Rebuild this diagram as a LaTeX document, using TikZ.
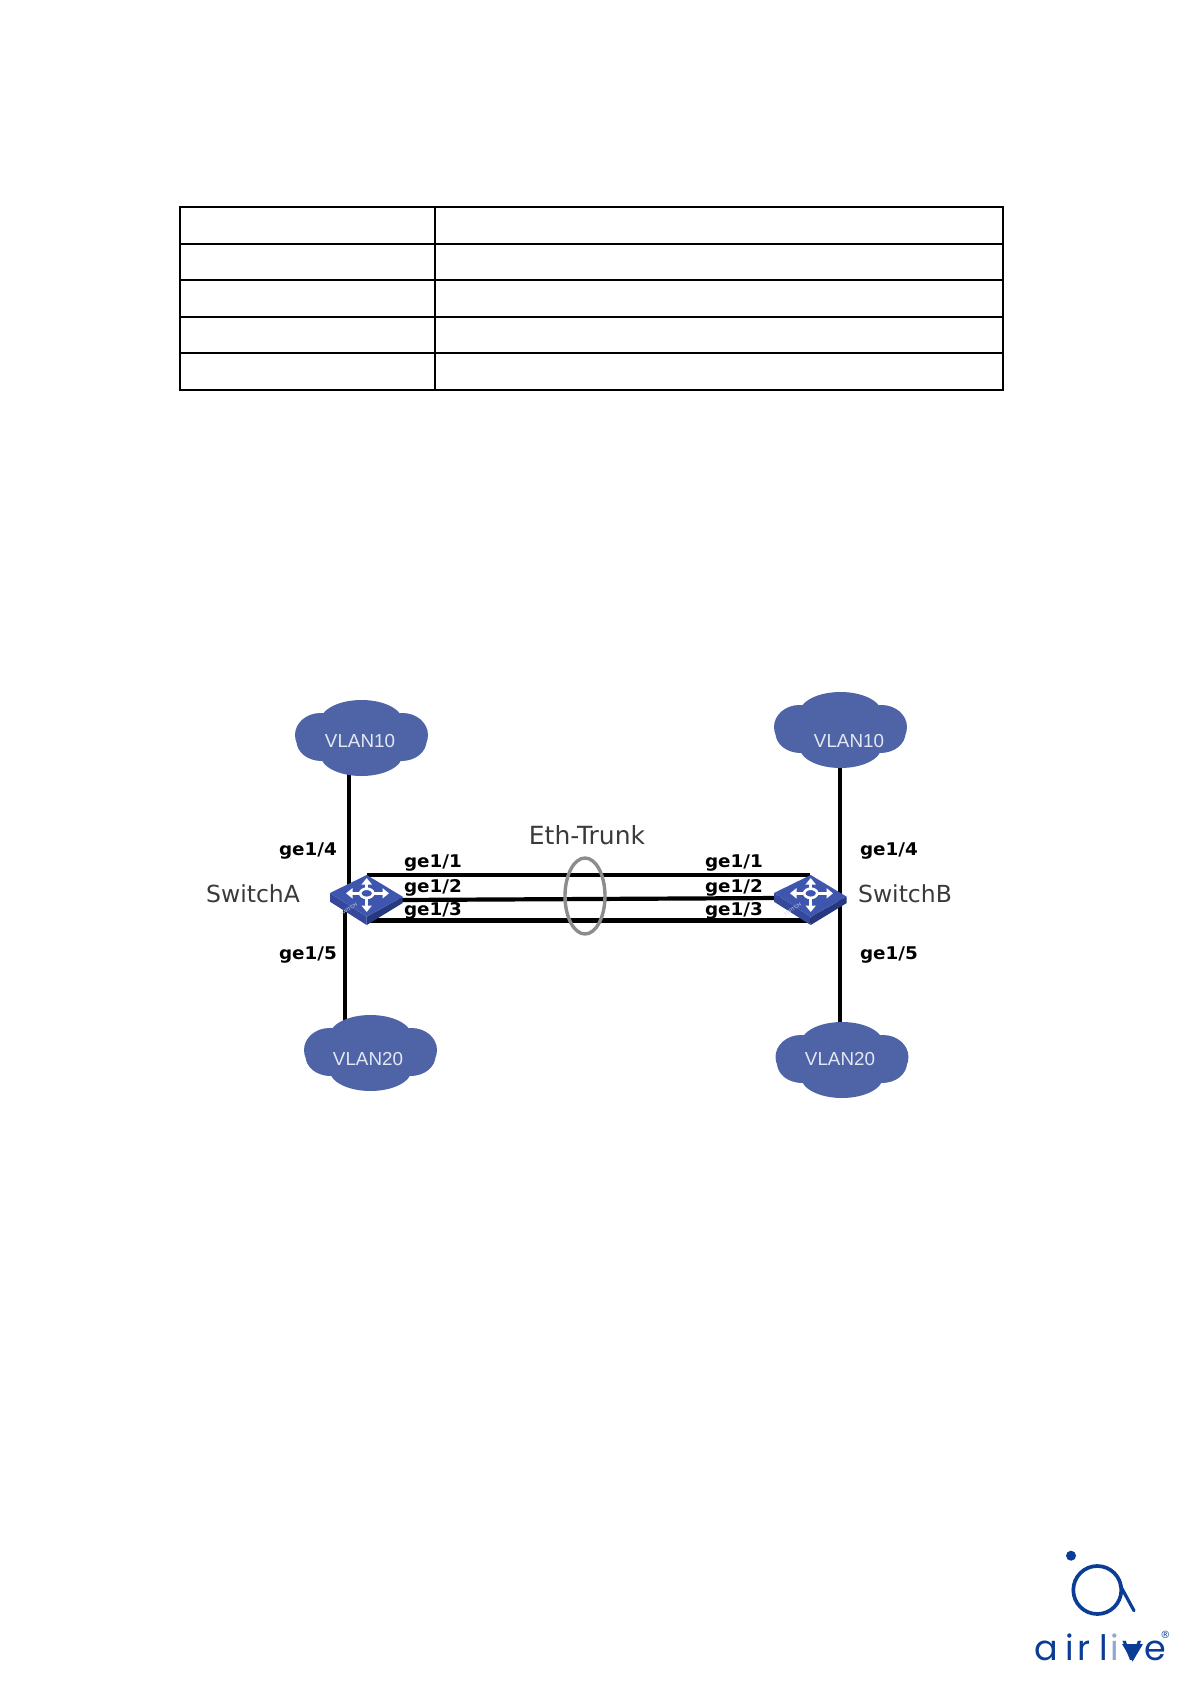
\documentclass[tikz,border=0pt]{standalone}
\usepackage{fontspec}
\usetikzlibrary{arrows.meta,shapes.geometric}
\setmainfont{DejaVu Sans}
\newfontfamily\arialf{Liberation Sans}
\newfontfamily\logof{Poppins}
\definecolor{cloudblue}{HTML}{4F64A7}
\definecolor{cloudtext}{HTML}{E3E8F3}
\definecolor{swtop}{HTML}{3F56AE}
\definecolor{swleft}{HTML}{34489C}
\definecolor{swright}{HTML}{26387F}
\definecolor{logoblue}{HTML}{0B3C96}
\definecolor{labelgray}{HTML}{3A3A3A}
\definecolor{ringgray}{HTML}{8C8C8C}
\tikzset{
  wire/.style={line width=4.2pt,black},
  ringline/.style={line width=3.4pt,draw=ringgray},
  tableline/.style={line width=2pt,black},
  vlantext/.style={font=\arialf\fontsize{18.8}{20}\selectfont,text=cloudtext,inner sep=0pt},
  portlabel/.style={font=\bfseries\fontsize{17.5}{19}\selectfont\addfontfeature{FakeStretch=1.05},text=black,inner sep=0pt},
  swlabel/.style={font=\fontsize{23.5}{25}\selectfont,text=labelgray,inner sep=0pt},
  cloudbox/.style={minimum width=133pt,minimum height=76pt,inner sep=0pt},
  swbox/.style={minimum width=72pt,minimum height=50pt,inner sep=0pt},
  arrowwhite/.style={draw=white,line width=2.8pt,-{Triangle[length=6.5pt,width=10pt]}}
}
\newcommand{\cloudat}[2]{%
  \fill[cloudblue] (#1,#2-17) ellipse (41 and 21);
  \fill[cloudblue] (#1-41,#2-3) ellipse (25.5 and 22);
  \fill[cloudblue] (#1+41,#2-3) ellipse (25.5 and 22);
  \fill[cloudblue] (#1-40,#2+3) ellipse (25 and 20);
  \fill[cloudblue] (#1+40,#2+3) ellipse (25 and 20);
  \fill[cloudblue] (#1,#2+17) ellipse (41 and 21);
  \fill[cloudblue] (#1-30,#2-12) rectangle (#1+30,#2+12);
}
\newcommand{\switchat}[2]{%
  \begin{scope}[shift={(#1,#2)}]
    \fill[swleft] (-36,-3) -- (0.7,20.7) -- (0.7,29) -- (-36,5.7) -- cycle;
    \fill[swright] (36.7,0.7) -- (0.7,20.7) -- (0.7,29) -- (36.7,7) -- cycle;
    \fill[swtop] (0.7,-21) -- (36.7,0.7) -- (0.7,20.7) -- (-36,-3) -- cycle;
    \draw[arrowwhite] (0.7,-8) -- (0.7,-18);
    \draw[arrowwhite] (0.7,3) -- (0.7,16);
    \draw[arrowwhite] (8,-2.7) -- (23,-2.7);
    \draw[arrowwhite] (-7,-2.7) -- (-20,-2.7);
    \draw[white,line width=2.6pt] (0.7,-2.7) ellipse (6.5 and 4.6);
    \node[rotate=33,text=white!80!swleft,font=\arialf\fontsize{5}{6}\selectfont,inner sep=0pt] at (-17.5,13.5) {SWITCH};
  \end{scope}
}
\begin{document}
\begin{tikzpicture}[x=1pt,y=-1pt]
\useasboundingbox (0,0) rectangle (1191,1684);
% table
\draw[tableline] (180,207) rectangle (1003,389.7);
\draw[tableline] (180,244) -- (1003,244);
\draw[tableline] (180,280) -- (1003,280);
\draw[tableline] (180,317) -- (1003,317);
\draw[tableline] (180,352.7) -- (1003,352.7);
\draw[tableline] (435,207) -- (435,389.7);
% cloud and switch anchors
\node[cloudbox] (a10) at (361.5,738) {};
\node[cloudbox] (a20) at (370.5,1053) {};
\node[cloudbox] (b10) at (840.5,730) {};
\node[cloudbox] (b20) at (842,1060) {};
\node[swbox] (sa) at (366,896) {};
\node[swbox] (sb) at (810,896) {};
\coordinate (sa-n) at (348.7,885);
\coordinate (sa-s) at (345,905);
\coordinate (sb-n) at (840,895);
\coordinate (sb-s) at (840,895);
\coordinate (sa-1) at (367,875);
\coordinate (sa-2) at (398,900);
\coordinate (sa-3) at (367,920.5);
\coordinate (sb-1) at (810,875);
\coordinate (sb-2) at (780,898);
\coordinate (sb-3) at (812,920.5);
% wires
\draw[wire] (a10.center -| sa-n) -- (sa-n);
\draw[wire] (sa-s) -- (a20.center -| sa-s);
\draw[wire] (b10.center -| sb-n) -- (sb-n);
\draw[wire] (sb-s) -- (b20.center -| sb-s);
\draw[wire] (sa-1) -- (sb-1);
\draw[wire] (sa-2) -- (sb-2);
\draw[wire] (sa-3) -- (sb-3);
% clouds
\cloudat{361.5}{738}
\cloudat{370.5}{1053}
\cloudat{840.5}{730}
\cloudat{842}{1060}
\node[vlantext] (a10t) at (360,741) {VLAN10};
\node[vlantext] (a20t) at (368,1059) {VLAN20};
\node[vlantext] (b10t) at (849,741) {VLAN10};
\node[vlantext] (b20t) at (840,1059) {VLAN20};
% switches
\switchat{366}{896}
\switchat{810}{896}
% ring
\node[ringline,draw,shape=ellipse,minimum width=40pt,minimum height=76pt,inner sep=0pt] (ring) at (585,896) {};
% labels
\node[swlabel,font=\fontsize{25}{27}\selectfont] (tk) at (587,835) {Eth-Trunk};
\node[swlabel] (sal) at (253,894) {SwitchA};
\node[swlabel] (sbl) at (905,894) {SwitchB};
\node[portlabel] (p1) at (433,863) {ge1/1};
\node[portlabel] (p2) at (433,888) {ge1/2};
\node[portlabel] (p3) at (433,911) {ge1/3};
\node[portlabel] (q1) at (734,863) {ge1/1};
\node[portlabel] (q2) at (734,888) {ge1/2};
\node[portlabel] (q3) at (734,911) {ge1/3};
\node[portlabel] (p4) at (308,851) {ge1/4};
\node[portlabel] (p5) at (308,955) {ge1/5};
\node[portlabel] (q4) at (889,851) {ge1/4};
\node[portlabel] (q5) at (889,955) {ge1/5};
% logo
\fill[logoblue] (1071,1555.7) circle (5);
\draw[logoblue,line width=3.7pt] (1097.3,1590) circle (24);
\draw[logoblue,line width=3.2pt,line cap=round] (1120,1585) -- (1134,1610.7);
\node[anchor=base west,inner sep=0pt,text=logoblue,font=\logof\fontsize{35}{36}\selectfont] (logo) at (1034,1660) {\makebox[31pt][l]{a}\makebox[12pt][l]{i}\makebox[22pt][l]{r}\makebox[11pt][l]{l}\makebox[12pt][l]{\textcolor{logoblue!45}{i}}\makebox[22pt][l]{v}e\kern-5.5pt\raisebox{21.5pt}{\normalfont\fontsize{10}{11}\selectfont ®}};
\fill[logoblue] (1122,1644) -- (1143,1644) -- (1132.5,1661.5) -- cycle;
\end{tikzpicture}
\end{document}
